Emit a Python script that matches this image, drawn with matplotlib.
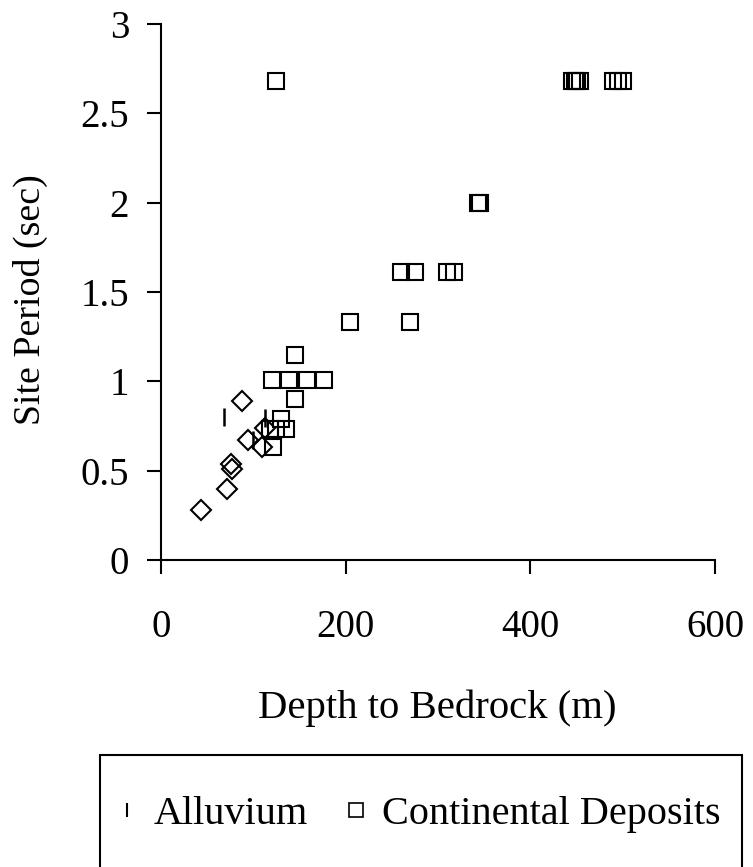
import matplotlib
matplotlib.use("Agg")
import matplotlib.pyplot as plt
from matplotlib.lines import Line2D
from matplotlib.patches import Rectangle

plt.rcParams['font.family'] = ['Liberation Serif', 'DejaVu Serif']

# Data (depth to bedrock in m, site period in sec)
alluvium_depth = [68, 113, 100]
alluvium_period = [0.80, 0.795, 0.67]

continental_depth = [125, 445, 448, 451, 454, 490, 495, 500, 343, 346,
                     260, 275, 310, 317, 205, 270, 145, 120, 139, 158, 176,
                     145, 130, 118, 125, 135, 121]
continental_period = [2.68, 2.68, 2.68, 2.68, 2.68, 2.68, 2.68, 2.68, 2.00, 2.00,
                      1.61, 1.61, 1.61, 1.61, 1.33, 1.33, 1.15, 1.01, 1.01, 1.01, 1.01,
                      0.90, 0.79, 0.735, 0.735, 0.735, 0.63]

other_depth = [88, 94, 75.5, 76.6, 72, 43, 109, 113]
other_period = [0.89, 0.67, 0.54, 0.51, 0.40, 0.28, 0.633, 0.74]

x_ticks = [0, 200, 400, 600]
y_ticks = [0, 0.5, 1, 1.5, 2, 2.5, 3]
y_tick_labels = ['0', '0.5', '1', '1.5', '2', '2.5', '3']

W, H = 753, 867
fig = plt.figure(figsize=(W / 100, H / 100), dpi=100)
ax = fig.add_axes([161 / W, 1 - 560 / H, (715 - 161) / W, (560 - 24) / H])

ax.plot(other_depth, other_period, ls='none', marker='D', ms=10,
        mfc='none', mec='black', mew=1.5, clip_on=False)
ax.plot(continental_depth, continental_period, ls='none', marker='s', ms=11.5,
        mfc='none', mec='black', mew=1.5, clip_on=False)
ax.plot(alluvium_depth, alluvium_period, ls='none', marker='|', ms=12.5,
        mec='black', mew=1.8, clip_on=False)

ax.set_xlim(0, 600)
ax.set_ylim(0, 3)
ax.set_xticks(x_ticks)
ax.set_yticks(y_ticks)
ax.set_yticklabels(y_tick_labels)
for s in ['top', 'right']:
    ax.spines[s].set_visible(False)
for s in ['left', 'bottom']:
    ax.spines[s].set_linewidth(1.5)
ax.tick_params(axis='both', direction='out', length=10, width=1.5,
               labelsize=28, colors='black')
ax.tick_params(axis='x', pad=25)
ax.tick_params(axis='y', pad=13)

ax.set_xlabel('Depth to Bedrock (m)', fontsize=29.3)
ax.xaxis.set_label_coords(0.498, -0.276)
ax.xaxis.label.set_va('center')
ax.set_ylabel('Site Period (sec)', fontsize=27.3)
ax.yaxis.set_label_coords(-0.236, 0.485)
ax.yaxis.label.set_va('center')

# Legend frame (bottom clipped by figure edge)
fig.patches.append(Rectangle((100 / W, 1 - 900 / H), 642 / W, (900 - 755) / H,
                             transform=fig.transFigure, fill=False,
                             edgecolor='black', linewidth=1.5))
handles = [Line2D([], [], ls='none', marker='|', ms=10.5, mec='black', mew=1.5),
           Line2D([], [], ls='none', marker='s', ms=9.5, mfc='none', mec='black', mew=1.2)]
fig.legend(handles, ['Alluvium', 'Continental Deposits'], loc='center left',
           bbox_to_anchor=(117 / W, 1 - 814 / H), ncol=2, frameon=False,
           fontsize=29, handlelength=0.5, handletextpad=0.4, columnspacing=0.95,
           borderpad=0, borderaxespad=0)

fig.savefig('out.png', dpi=100)
